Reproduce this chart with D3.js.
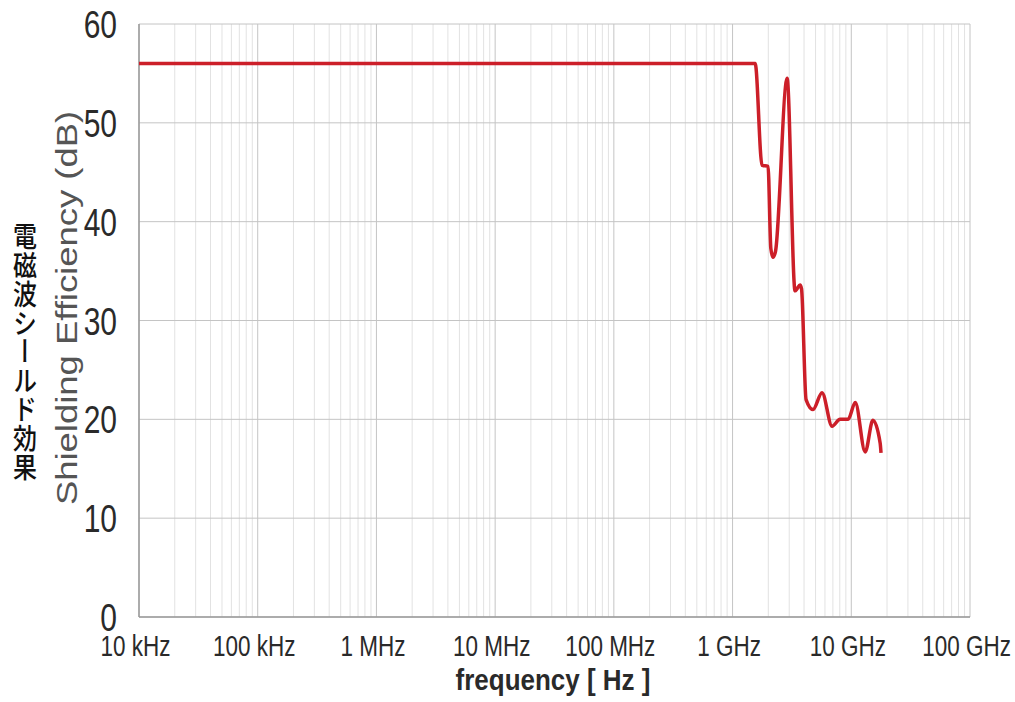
<!DOCTYPE html>
<html>
<head>
<meta charset="utf-8">
<script src="https://cdn.jsdelivr.net/npm/d3@7"></script>
<style>
  body { margin: 0; background: #fff; }
  text { font-family: "Liberation Sans", Arial, sans-serif; }
</style>
</head>
<body>
<div id="chart"></div>
<script>
// values
var freqHz = [1e4, 1.55e9, 1.77e9, 1.99e9, 2.10e9, 2.19e9, 2.30e9, 2.88e9, 3.36e9, 3.49e9, 3.70e9, 3.81e9,
              4.16e9, 4.76e9, 5.67e9, 6.89e9, 8.04e9, 9.40e9, 1.08e10, 1.31e10, 1.52e10, 1.75e10, 1.78e10];
var shieldDb = [56, 56, 45.7, 45.6, 37.3, 36.4, 37.0, 54.5, 33.0, 33.2, 33.6, 33.2,
                22.0, 21.0, 22.7, 19.3, 20.0, 20.0, 21.7, 16.7, 19.9, 17.6, 16.6];
var xTicks = [1e4, 1e5, 1e6, 1e7, 1e8, 1e9, 1e10, 1e11];
var xTickLabels = ["10 kHz", "100 kHz", "1 MHz", "10 MHz", "100 MHz", "1 GHz", "10 GHz", "100 GHz"];
var yTicks = [0, 10, 20, 30, 40, 50, 60];

var margin = { top: 24, right: 45, bottom: 85, left: 139 };
var width = 1015 - margin.left - margin.right;
var height = 702 - margin.top - margin.bottom;

var svg = d3.select("#chart").append("svg")
    .attr("width", 1015)
    .attr("height", 702);

var g = svg.append("g")
    .attr("transform", "translate(" + margin.left + "," + margin.top + ")");

var x = d3.scaleLog()
    .domain([1e4, 1e11])
    .range([0, width]);

var y = d3.scaleLinear()
    .domain([0, 60])
    .range([height, 0]);

// minor grid (2..9 per decade)
var minor = [];
xTicks.slice(0, -1).forEach(function(d) {
    for (var k = 2; k <= 9; k++) minor.push(d * k);
});

g.append("g").selectAll("line")
    .data(minor)
    .enter().append("line")
    .attr("x1", function(d) { return x(d); })
    .attr("x2", function(d) { return x(d); })
    .attr("y1", 0)
    .attr("y2", height)
    .attr("stroke", "#e2e2e2")
    .attr("stroke-width", 1);

// major grid
g.append("g").selectAll("line")
    .data(xTicks)
    .enter().append("line")
    .attr("x1", function(d) { return x(d); })
    .attr("x2", function(d) { return x(d); })
    .attr("y1", 0)
    .attr("y2", height)
    .attr("stroke", "#c4c4c4")
    .attr("stroke-width", 1);

g.append("g").selectAll("line")
    .data(yTicks)
    .enter().append("line")
    .attr("x1", 0)
    .attr("x2", width)
    .attr("y1", function(d) { return y(d); })
    .attr("y2", function(d) { return y(d); })
    .attr("stroke", "#c4c4c4")
    .attr("stroke-width", 1);

// frame
g.append("line").attr("x1", 0).attr("x2", 0).attr("y1", 0).attr("y2", height)
    .attr("stroke", "#9a9a9a").attr("stroke-width", 1.5);
g.append("line").attr("x1", 0).attr("x2", width).attr("y1", height).attr("y2", height)
    .attr("stroke", "#9a9a9a").attr("stroke-width", 1.5);

// axes (labels only)
var xAxis = d3.axisBottom(x)
    .tickValues(xTicks)
    .tickSize(0)
    .tickFormat(function(d, i) { return xTickLabels[i]; });

var xg = g.append("g")
    .attr("transform", "translate(0," + height + ")")
    .call(xAxis);
xg.select(".domain").remove();
xg.selectAll("text")
    .attr("y", 0).attr("dy", 0)
    .attr("transform", "translate(-4,39) scale(1,1.3)")
    .attr("fill", "#2a2a2a")
    .style("font-size", "22.5px")
    .style("font-family", "'Liberation Sans', Arial, sans-serif");

var yAxis = d3.axisLeft(y)
    .tickValues(yTicks)
    .tickSize(0)
    .tickFormat(d3.format("d"));

var yg = g.append("g").call(yAxis);
yg.select(".domain").remove();
yg.selectAll("text")
    .attr("x", 0).attr("dy", 0)
    .attr("transform", "translate(-22,13.5) scale(1,1.3)")
    .attr("fill", "#2a2a2a")
    .style("font-size", "30px")
    .style("font-family", "'Liberation Sans', Arial, sans-serif");

// the line
var line = d3.line()
    .x(function(d, i) { return x(freqHz[i]); })
    .y(function(d) { return y(d); })
    .curve(d3.curveMonotoneX);

g.append("path")
    .datum(shieldDb)
    .attr("d", line)
    .attr("fill", "none")
    .attr("stroke", "#cc1f29")
    .attr("stroke-width", 3.5)
    .attr("stroke-linejoin", "round");

// axis titles
svg.append("text")
    .attr("transform", "translate(553,690) scale(1,1.15)")
    .attr("text-anchor", "middle")
    .attr("fill", "#2a2a2a")
    .style("font-size", "26px")
    .style("font-weight", "bold")
    .text("frequency [ Hz ]");

svg.append("text")
    .attr("transform", "translate(77,308) rotate(-90) scale(1.257,1)")
    .attr("text-anchor", "middle")
    .attr("fill", "#555")
    .style("font-size", "29px")
    .text("Shielding Efficiency (dB)");

svg.append("text")
    .attr("transform", "translate(25,222) scale(1,1.2)")
    .style("writing-mode", "vertical-rl")
    .style("font-family", "'Noto Sans CJK JP', sans-serif")
    .style("font-size", "24px")
    .style("font-weight", "500")
    .attr("fill", "#111")
    .text("電磁波シールド効果");
</script>
</body>
</html>
